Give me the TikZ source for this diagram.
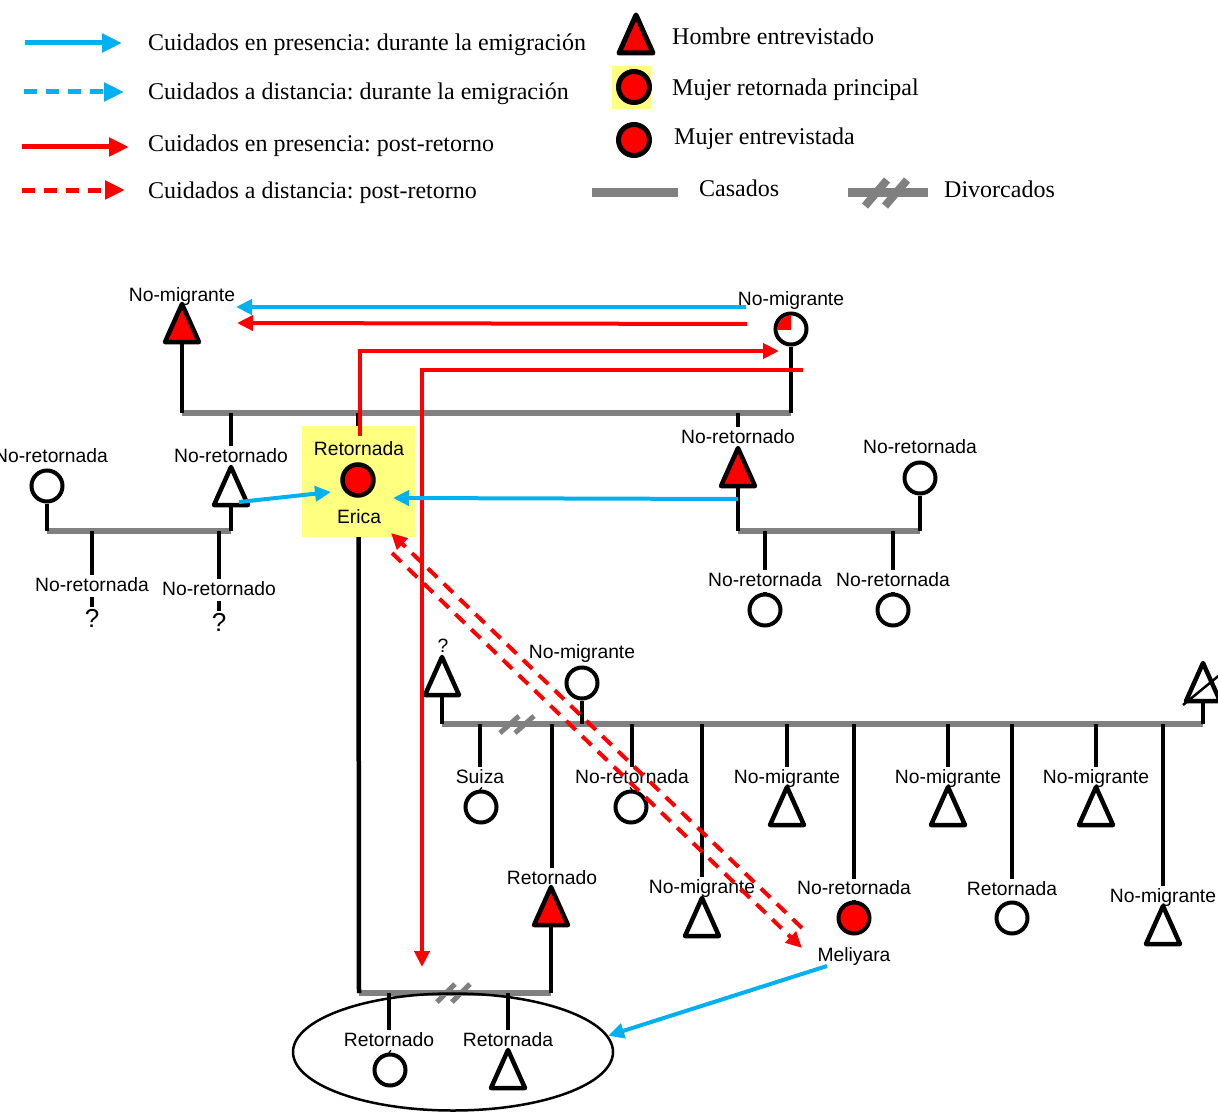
\documentclass[tikz,border=0pt]{standalone}
\usepackage{fontspec}
\setmainfont{Liberation Serif}
\newfontfamily\arialfont{Liberation Sans}
\usetikzlibrary{arrows.meta,shapes.geometric}
\frenchspacing

\definecolor{cblue}{RGB}{0,176,240}
\definecolor{cred}{RGB}{255,0,0}
\definecolor{cgray}{RGB}{128,128,128}
\definecolor{cyellow}{RGB}{255,255,128}

\tikzset{
  kin/.style={line width=4.5pt, black},
  marriage/.style={line width=6pt, cgray},
  divmark/.style={line width=5pt, cgray},
  sym/.style={line width=4.5pt, line join=round, draw=black},
  person/.style={circle, draw=black, line width=4pt, minimum size=31pt, inner sep=0pt, fill=white},
  lab/.style={font=\arialfont\fontsize{19.3}{22}\selectfont, inner sep=1.5pt, text height=14pt, text depth=4pt},
  unknown/.style={font=\arialfont\fontsize{26}{30}\selectfont, inner sep=1.5pt, text height=19pt, text depth=0pt},
  legtext/.style={font=\fontsize{24}{28}\selectfont, anchor=base west, inner sep=0pt},
  care/.style={line width=4pt, -{Triangle[length=16pt,width=15pt]}},
  carelg/.style={line width=5pt, -{Triangle[length=20pt,width=18pt]}},
  dist/.style={dash pattern=on 13pt off 9pt},
}

% triangle for a man: #2 name, (#3,#4) centre; defines #2-t (apex) and #2-b (base)
\newcommand\kintri[4][white]{%
  \coordinate (#2) at (#3,#4);
  \coordinate (#2-t) at (#3,#4-19);
  \coordinate (#2-b) at (#3,#4+19);
  \draw[sym,fill=#1] (#2-t) -- ++(17,38) -- ++(-34,0) -- cycle;}

\begin{document}
\begin{tikzpicture}[x=1pt,y=-1pt]
\useasboundingbox (0,0) rectangle (1218,1113);

% ---------------- legend ----------------
\coordinate (lg1s) at (25,43);  \coordinate (lg1e) at (122,43);
\coordinate (lg2s) at (24,92);  \coordinate (lg2e) at (124,92);
\coordinate (lg3s) at (22,147); \coordinate (lg3e) at (129,147);
\coordinate (lg4s) at (22,190); \coordinate (lg4e) at (125,190);
\draw[carelg,cblue] (lg1s) -- (lg1e);
\draw[carelg,cblue,dist] (lg2s) -- (lg2e);
\draw[carelg,cred] (lg3s) -- (lg3e);
\draw[carelg,cred,dist] (lg4s) -- (lg4e);
\node[legtext] (lt1) at (148,51) {Cuidados en presencia: durante la emigración};
\node[legtext] (lt2) at (148,100) {Cuidados a distancia: durante la emigración};
\node[legtext] (lt3) at (148,152) {Cuidados en presencia: post-retorno};
\node[legtext] (lt4) at (148,198) {Cuidados a distancia: post-retorno};

\begin{scope}[sym/.append style={line width=5pt}]
\kintri[cred]{lgtri}{636}{34}
\end{scope}
\node[legtext] (lt5) at (672,45) {Hombre entrevistado};
\node[fill=cyellow, minimum width=39pt, minimum height=43pt, inner sep=0pt] (lgbox) at (631.5,87.5) {};
\node[person, fill=cred, line width=5pt] (lgmr) at (634,87) {};
\node[legtext] (lt6) at (672,96) {Mujer retornada principal};
\node[person, fill=cred, line width=5pt] (lgme) at (634,140) {};
\node[legtext] (lt7) at (674,145) {Mujer entrevistada};
\coordinate (lgcA) at (592,192); \coordinate (lgcB) at (678,192);
\draw[line width=9pt, cgray] (lgcA) -- (lgcB);
\node[legtext] (lt8) at (699,196) {Casados};
\coordinate (lgdA) at (848,192); \coordinate (lgdB) at (928,192);
\draw[line width=9pt, cgray] (lgdA) -- (lgdB);
\draw[line width=8pt, cgray] (865,206) -- (887,180) (885,206) -- (907,180);
\node[legtext] (lt9) at (944,197) {Divorcados};

% ---------------- marriage bars ----------------
\coordinate (topL) at (182,413);  \coordinate (topR) at (791,413);
\coordinate (lbarL) at (47,531);  \coordinate (lbarR) at (231,531);
\coordinate (rbarL) at (738,531); \coordinate (rbarR) at (920,531);
\coordinate (mbarL) at (442,724); \coordinate (mbarR) at (1203,724);
\coordinate (bbarL) at (359,993); \coordinate (bbarR) at (551,993);

\node[fill=cyellow, minimum width=113pt, minimum height=111pt, inner sep=0pt] (ebox) at (358.5,481.5) {};

\draw[marriage] (topL) -- (topR);
\draw[marriage] (lbarL) -- (lbarR);
\draw[marriage] (rbarL) -- (rbarR);
\draw[marriage] (mbarL) -- (mbarR);
\draw[marriage] (bbarL) -- (bbarR);
\draw[divmark] (500,733) -- (519,716) (515,733) -- (534,716);
\draw[divmark] (437,1002) -- (455,984) (452,1002) -- (470,984);

% ---------------- grandparents ----------------
\kintri[cred]{fa}{182}{323}
\node[person] (mo) at (791,329) {};
\begin{scope}
  \clip (mo.center) rectangle ++(-14,-14);
  \fill[cred] (mo.center) circle[radius=13.5pt];
\end{scope}
\node[lab] (fa-lab) at (182,296) {No-migrante};
\node[lab] (mo-lab) at (791,300) {No-migrante};
\draw[kin] (fa-b) -- (topL);
\draw[kin] (mo.south) -- (topR);

% their children
\node[lab] (lt-lab) at (231,457) {No-retornado};
\kintri{lt}{231}{486}
\draw[kin] (lt-lab.north |- topL) -- (lt-lab.north);

\node[lab] (eri-lab) at (359,450) {Retornada};
\node[person, fill=cred, line width=4.5pt] (eri) at (358,480) {};
\node[lab] (eri-name) at (359,518) {Erica};
\draw[kin] (ebox.north |- topL) -- (ebox.north);

\node[lab] (rt-lab) at (738,438) {No-retornado};
\kintri[cred]{rt}{738}{467}
\draw[kin] (rt-lab.north |- topL) -- (rt-lab.north);

% ---------------- left family ----------------
\node[person] (lc) at (47,486) {};
\node[lab] (lc-lab) at (51,457) {No-retornada};
\draw[kin] (lc.south) -- (lbarL);
\draw[kin] (lt-b) -- (lbarR);
\node[lab] (lk1) at (92,586) {No-retornada};
\node[unknown] (lq1) at (92,618) {?};
\node[lab] (lk2) at (219,590) {No-retornado};
\node[unknown] (lq2) at (219,622) {?};
\draw[kin] (lk1.north |- lbarL) -- (lk1.north);
\draw[kin] (lk1.south) -- (lq1.north);
\draw[kin] (lk2.north |- lbarL) -- (lk2.north);
\draw[kin] (lk2.south) -- (lq2.north);

% ---------------- right family ----------------
\node[person] (rc) at (920,478) {};
\node[lab] (rc-lab) at (920,448) {No-retornada};
\draw[kin] (rt-b) -- (rbarL);
\draw[kin] (rc.south) -- (rbarR);
\node[lab] (rk1-lab) at (765,581) {No-retornada};
\node[person] (rk1) at (765,610) {};
\node[lab] (rk2-lab) at (893,581) {No-retornada};
\node[person] (rk2) at (893,610) {};
\foreach \k in {rk1,rk2}{
  \draw[kin] (\k-lab.north |- rbarL) -- (\k-lab.north);
  \draw[kin] (\k-lab.south) -- (\k.north);
}

% ---------------- middle family ----------------
\kintri{tq}{442}{676}
\node[lab] (tq-lab) at (443,647) {?};
\node[person] (mc) at (582,683) {};
\node[lab] (mc-lab) at (582,653) {No-migrante};
\kintri{tr}{1203}{682}
\coordinate (trs1) at (1183,705); \coordinate (trs2) at (1222,673);
\draw[line width=2.5pt] (trs1) -- (trs2);
\draw[kin] (tq-b) -- (mbarL);
\draw[kin] (mc.south) -- (mc.south |- mbarL);
\draw[kin] (tr-b) -- (mbarR);

\node[lab] (m1-lab) at (480,778) {Suiza};
\node[person] (m1) at (481,807) {};
\node[lab] (m2-lab) at (552,879) {Retornado};
\kintri[cred]{m2}{551}{906}
\node[lab] (m3-lab) at (632,778) {No-retornada};
\node[person] (m3) at (631,807) {};
\node[lab] (m4-lab) at (702,888) {No-migrante};
\kintri{m4}{702}{917}
\node[lab] (m5-lab) at (787,778) {No-migrante};
\kintri{m5}{787}{806}
\node[lab] (m6-lab) at (854,889.5) {No-retornada};
\node[person, fill=cred] (m6) at (854,918) {};
\node[lab] (m6-name) at (854,956.5) {Meliyara};
\node[lab] (m7-lab) at (948,778) {No-migrante};
\kintri{m7}{948}{806}
\node[lab] (m8-lab) at (1012,890) {Retornada};
\node[person] (m8) at (1012,918) {};
\node[lab] (m9-lab) at (1096,778) {No-migrante};
\kintri{m9}{1096}{806}
\node[lab] (m10-lab) at (1163,897) {No-migrante};
\kintri{m10}{1163}{925}
\foreach \k in {m1,m2,m3,m4,m5,m6,m7,m8,m9,m10}{
  \draw[kin] (\k-lab.north |- mbarL) -- (\k-lab.north);
}
\foreach \k in {m1,m3,m6,m8}{
  \draw[kin] (\k-lab.south) -- (\k.north);
}

% ---------------- bottom family ----------------
\draw[kin] (ebox.south) -- (bbarL);
\draw[kin] (m2-b) -- (bbarR);
\node[lab] (b1-lab) at (389,1041) {Retornado};
\node[person] (b1) at (390,1070) {};
\node[lab] (b2-lab) at (508,1041) {Retornada};
\kintri{b2}{508}{1069}
\draw[kin] (b1-lab.north |- bbarL) -- (b1-lab.north);
\draw[kin] (b1-lab.south) -- (b1.north);
\draw[kin] (b2-lab.north |- bbarL) -- (b2-lab.north);
\node[draw, ellipse, line width=2.5pt, minimum width=320pt, minimum height=117pt, inner sep=0pt] (fam) at (453,1052) {};

% ---------------- care flows ----------------
\coordinate (mo-c1) at (746,307); \coordinate (fa-c1) at (236,307);
\draw[care,cblue] (mo-c1) -- (fa-c1);
\coordinate (mo-c2) at (747,324); \coordinate (fa-c2) at (237,323);
\draw[care,cred] (mo-c2) -- (fa-c2);
\coordinate (eri-up) at (360,436); \coordinate (mo-in) at (779,351);
\draw[care,cred] (eri-up) |- (mo-in);
\coordinate (mo-out) at (803,370); \coordinate (kids-in) at (422,967);
\draw[care,cred] (mo-out) -| (kids-in);
\coordinate (lt-out) at (239,502); \coordinate (eri-l) at (331,492);
\draw[care,cblue] (lt-out) -- (eri-l);
\coordinate (rt-out) at (738,499); \coordinate (eri-r) at (393,498);
\draw[care,cblue] (rt-out) -- (eri-r);
\coordinate (mel-a) at (802,928); \coordinate (eri-a) at (391,533);
\draw[care,cred,dist] (mel-a) -- (eri-a);
\coordinate (eri-b) at (392,553); \coordinate (mel-b) at (802,948);
\draw[care,cred,dist] (eri-b) -- (mel-b);
\coordinate (mel-out) at (827,966);
\draw[care,cblue] (mel-out) -- (fam.6);
\end{tikzpicture}
\end{document}
